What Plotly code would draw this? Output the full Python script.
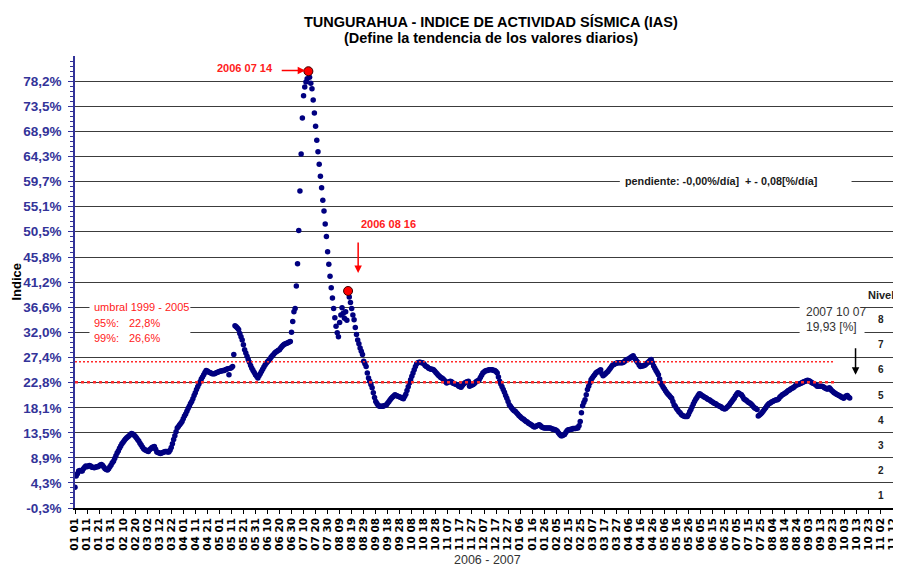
import pandas as pd
import plotly.graph_objects as go

# ---------------- data ----------------
start_date = "2006-01-01"
end_axis_date = "2007-11-12"
threshold_end_date = "2007-09-24"

ias_values = [
    3.5, 5.6, 6.0, 6.5, 6.6, 6.5, 6.5, 6.9, 7.2, 7.4,
    7.3, 7.4, 7.5, 7.4, 7.2, 7.2, 7.1, 7.2, 7.3, 7.3,
    7.4, 7.6, 7.7, 7.5, 7.2, 6.9, 6.8, 6.7, 6.9, 7.3,
    7.6, 8.0, 8.3, 8.8, 9.3, 9.8, 10.2, 10.7, 11.1, 11.5,
    11.8, 12.1, 12.4, 12.6, 12.8, 13.0, 13.2, 13.4, 13.3, 13.1,
    12.9, 12.6, 12.3, 12.0, 11.6, 11.3, 10.9, 10.6, 10.4, 10.3,
    10.2, 10.1, 10.4, 10.6, 10.8, 10.9, 11.0, 10.5, 10.0, 9.9,
    9.8, 9.7, 9.8, 9.9, 10.0, 10.1, 10.1, 10.0, 10.0, 10.3,
    10.8, 11.5, 12.3, 13.0, 13.7, 14.4, 14.7, 15.0, 15.3, 15.6,
    16.1, 16.6, 17.0, 17.5, 18.0, 18.4, 18.9, 19.3, 19.8, 20.4,
    20.9, 21.5, 22.0, 22.5, 22.9, 23.4, 23.8, 24.2, 24.6, 25.0,
    24.9, 24.7, 24.6, 24.5, 24.4, 24.4, 24.4, 24.5, 24.6, 24.7,
    24.8, 24.9, 24.9, 25.0, 25.0, 25.1, 25.2, 25.3, 24.2, 25.4,
    25.5, 25.7, 27.9, 33.2, 33.0, 32.8, 32.5, 31.8, 31.2, 30.6,
    29.7, 28.8, 28.2, 27.6, 27.0, 26.5, 25.9, 25.4, 25.0, 24.6,
    24.2, 23.9, 23.6, 24.0, 24.4, 24.8, 25.2, 25.6, 26.0, 26.3,
    26.6, 26.8, 27.1, 27.4, 27.7, 27.9, 28.2, 28.4, 28.5, 28.7,
    28.8, 29.1, 29.4, 29.6, 29.8, 29.9, 30.0, 30.1, 30.2, 30.3,
    32.0, 34.0, 35.8, 36.4, 40.5, 44.6, 50.7, 58.0, 64.8, 71.4,
    75.5, 77.1, 78.0, 78.6, 80.0, 78.9, 77.8, 76.8, 74.7, 72.3,
    69.9, 67.3, 65.2, 62.9, 60.7, 58.6, 56.3, 54.3, 51.9, 49.6,
    46.8, 44.5, 42.3, 40.2, 38.3, 36.4, 34.7, 33.1, 31.9, 31.2,
    33.8, 35.2, 36.5, 35.5, 34.6, 35.8, 34.2, 39.6, 38.5, 37.5,
    36.4, 35.2, 34.3, 32.9, 31.6, 30.6, 29.9, 29.1, 28.5, 27.9,
    26.7, 26.2, 25.7, 24.5, 23.6, 23.0, 22.4, 21.8, 20.9, 20.0,
    19.3, 18.9, 18.6, 18.4, 18.4, 18.4, 18.4, 18.5, 18.6, 18.7,
    19.0, 19.3, 19.6, 19.9, 20.1, 20.3, 20.5, 20.4, 20.3, 20.2,
    20.1, 20.0, 19.9, 19.8, 20.2, 20.6, 21.3, 22.0, 22.7, 23.3,
    23.9, 24.5, 25.1, 25.7, 26.2, 26.4, 26.5, 26.5, 26.4, 26.4,
    26.2, 25.9, 25.7, 25.6, 25.4, 25.3, 25.2, 25.2, 25.1, 24.9,
    24.6, 24.4, 24.1, 23.9, 23.7, 23.6, 23.4, 23.2, 22.9, 22.7,
    22.8, 22.9, 23.0, 22.9, 22.7, 22.6, 22.5, 22.4, 22.3, 22.1,
    22.0, 21.9, 22.2, 22.5, 22.7, 22.8, 22.9, 23.0, 22.1, 22.2,
    22.3, 22.4, 22.6, 22.8, 23.0, 23.1, 23.3, 23.7, 24.1, 24.5,
    24.7, 24.9, 25.0, 25.0, 25.1, 25.1, 25.1, 25.1, 25.0, 25.0,
    24.8, 24.5, 23.8, 23.0, 22.5, 22.0, 21.5, 21.0, 20.4, 19.9,
    19.3, 18.7, 18.4, 18.1, 17.8, 17.6, 17.5, 17.2, 17.0, 16.7,
    16.5, 16.3, 16.1, 16.0, 15.8, 15.6, 15.5, 15.3, 15.2, 15.0,
    14.9, 14.7, 14.6, 14.7, 14.8, 14.9, 15.0, 14.8, 14.6, 14.5,
    14.4, 14.4, 14.4, 14.4, 14.4, 14.4, 14.3, 14.2, 14.2, 14.1,
    14.0, 13.8, 13.5, 13.2, 13.0, 13.0, 13.1, 13.2, 13.6, 13.9,
    14.1, 14.1, 14.2, 14.2, 14.3, 14.3, 14.3, 14.4, 14.4, 14.8,
    15.6, 17.2, 18.5, 19.1, 19.6, 20.5, 21.5, 22.1, 22.7, 23.3,
    23.6, 23.9, 24.2, 24.5, 24.7, 24.8, 25.0, 25.1, 24.4, 24.0,
    24.2, 24.4, 24.6, 24.8, 25.1, 25.4, 25.7, 26.0, 26.1, 26.2,
    26.3, 26.4, 26.4, 26.4, 26.4, 26.4, 26.5, 26.7, 26.9, 27.0,
    27.1, 27.2, 27.4, 27.5, 27.7, 27.3, 27.0, 26.7, 26.4, 26.0,
    25.7, 25.8, 25.8, 25.9, 26.0, 26.2, 26.4, 26.6, 26.8, 27.0,
    26.4, 25.8, 25.4, 25.0, 24.6, 24.2, 23.4, 22.7, 22.3, 21.9,
    21.6, 21.2, 20.9, 20.6, 20.4, 20.1, 19.9, 19.3, 18.7, 18.4,
    18.0, 17.7, 17.4, 17.2, 16.9, 16.7, 16.6, 16.5, 16.5, 16.5,
    16.9, 17.4, 17.8, 18.3, 18.8, 19.3, 19.7, 20.0, 20.4, 20.7,
    20.6, 20.4, 20.3, 20.1, 20.0, 19.9, 19.7, 19.6, 19.5, 19.3,
    19.2, 19.0, 18.9, 18.8, 18.6, 18.5, 18.4, 18.3, 18.1, 18.0,
    17.9, 18.0, 18.2, 18.4, 18.7, 19.0, 19.3, 19.6, 19.9, 20.3,
    20.6, 20.9, 20.8, 20.6, 20.5, 20.2, 19.8, 19.6, 19.5, 19.3,
    19.1, 19.0, 18.8, 18.6, 18.3, 18.1, 18.0, 17.8, 16.6, 16.8,
    17.0, 17.2, 17.5, 17.8, 18.1, 18.4, 18.7, 18.9, 19.0, 19.2,
    19.3, 19.4, 19.5, 19.6, 19.6, 19.8, 20.1, 20.3, 20.5, 20.6,
    20.8, 20.9, 21.1, 21.3, 21.4, 21.6, 21.7, 21.8, 22.0, 22.2,
    22.3, 22.4, 22.5, 22.6, 22.7, 22.8, 22.9, 23.0, 23.1, 23.2,
    23.1, 23.0, 22.8, 22.7, 22.6, 22.5, 22.3, 22.1, 22.1, 22.1,
    22.1, 22.1, 22.0, 21.8, 21.7, 21.6, 21.6, 21.8, 21.6, 21.3,
    21.1, 20.9, 20.8, 20.6, 20.5, 20.4, 20.3, 20.1, 20.0, 19.9,
    20.1, 20.3, 20.4, 20.1, 19.93,
]

highlight_dates = ["2006-07-14", "2006-08-16"]
highlight_labels = ["2006 07 14", "2006 08 16"]

umbral_95 = 22.8
umbral_99 = 26.6

y_tick_values = [-0.3, 4.3, 8.9, 13.5, 18.1, 22.8, 27.4, 32.0, 36.6, 41.2,
                 45.8, 50.5, 55.1, 59.7, 64.3, 68.9, 73.5, 78.2]
y_tick_labels = ["-0,3%", "4,3%", "8,9%", "13,5%", "18,1%", "22,8%", "27,4%",
                 "32,0%", "36,6%", "41,2%", "45,8%", "50,5%", "55,1%", "59,7%",
                 "64,3%", "68,9%", "73,5%", "78,2%"]
y_top = 82.8
nivel_labels = ["1", "2", "3", "4", "5", "6", "7", "8"]

title_line1 = "TUNGURAHUA - INDICE DE ACTIVIDAD SÍSMICA (IAS)"
title_line2 = "(Define la tendencia de los valores diarios)"
pendiente_text = "pendiente: -0,00%/día]  + - 0,08[%/día]"
last_label = "2007 10 07"
last_value_text = "19,93 [%]"

# ---------------- layout geometry ----------------
# The page body adds an 8px offset; all positions below are page pixels.
OFF = 8
W_FIG, H_FIG = 901 - OFF, 568 - OFF
L, R, T, B = 74.5, 893.5, 55.5, 508.5          # plot area in page pixels
PW, PH = R - L, B - T


def px(xp):
    return (xp - L) / PW


def py(yp):
    return (B - yp) / PH


dates = pd.date_range(start_date, periods=len(ias_values), freq="D")
series = pd.Series(ias_values, index=dates)

fig = go.Figure()

fig.add_trace(go.Scatter(
    x=dates, y=ias_values, mode="markers",
    marker=dict(color="#000080", size=5.5, line=dict(width=0)),
    showlegend=False, hoverinfo="x+y"))

# threshold lines
thr_x = [pd.Timestamp(start_date), pd.Timestamp(threshold_end_date)]
fig.add_trace(go.Scatter(
    x=thr_x, y=[umbral_99, umbral_99], mode="lines",
    line=dict(color="#FF2A2A", width=1.5, dash="2px,2px"),
    showlegend=False, hoverinfo="skip"))
fig.add_trace(go.Scatter(
    x=thr_x, y=[umbral_95, umbral_95], mode="lines",
    line=dict(color="#FF2A2A", width=2.5, dash="3px,3px"),
    showlegend=False, hoverinfo="skip"))

# highlighted points
hx = [pd.Timestamp(d) for d in highlight_dates]
hy = [series[d] for d in hx]
fig.add_trace(go.Scatter(
    x=hx, y=hy, mode="markers",
    marker=dict(color="#FF0000", size=9, line=dict(color="#3a0000", width=1)),
    showlegend=False, hoverinfo="x+y"))

shapes = []
# white gaps in gridlines behind text boxes
for (x0, x1, y0, y1) in [(620, 852, 174, 189), (89, 190, 299, 346),
                         (800, 865, 300, 341)]:
    shapes.append(dict(type="rect", xref="paper", yref="paper",
                       x0=px(x0), x1=px(x1), y0=py(y1), y1=py(y0),
                       fillcolor="white", line=dict(width=0), layer="above"))

annotations = []


def text(xp, yp, s, size=11, color="#222222", bold=False, xanchor="center",
         family="Liberation Sans", angle=0):
    annotations.append(dict(
        xref="paper", yref="paper", x=px(xp), y=py(yp),
        text=("<b>%s</b>" % s) if bold else s, textangle=angle,
        showarrow=False, xanchor=xanchor, yanchor="middle",
        font=dict(size=size, color=color, family=family)))


def arrow(x_head, y_head, x_tail, y_tail, color):
    annotations.append(dict(
        xref="paper", yref="paper", x=px(x_head), y=py(y_head),
        ax=x_tail - x_head, ay=y_tail - y_head, text="", showarrow=True,
        arrowhead=2, arrowsize=1, arrowwidth=1.5, arrowcolor=color))


# titles
text(491, 21.5, title_line1, size=14.5, color="#000000", bold=True)
text(491, 37, title_line2, size=14.5, color="#000000", bold=True)

# peak annotations
text(245, 68, highlight_labels[0], size=11, color="#FF2020", bold=True)
arrow(305, 70, 280, 70, "#FF0000")
text(359, 224, highlight_labels[1], size=11, color="#FF2020", bold=True, xanchor="left")
arrow(358, 273, 358, 241, "#FF0000")

# umbral block
text(92, 307, "umbral 1999 - 2005", size=11, color="#FF2020", xanchor="left")
text(92, 323, "95%:", size=11, color="#FF2020", xanchor="left")
text(127, 323, "%s%%" % str(umbral_95).replace(".", ","), size=11, color="#FF2020", xanchor="left")
text(92, 338, "99%:", size=11, color="#FF2020", xanchor="left")
text(127, 338, "%s%%" % str(umbral_99).replace(".", ","), size=11, color="#FF2020", xanchor="left")

# pendiente
text(623, 181, pendiente_text, size=10.8, color="#1a1a1a", bold=True, xanchor="left")

# last value
text(804, 312.5, last_label, size=12, color="#333333", xanchor="left")
text(804, 327, last_value_text, size=12, color="#333333", xanchor="left")
arrow(856, 375, 856, 347, "#000000")

# nivel labels
text(881, 295.5, "Nivel", size=11, color="#222222", bold=True)
for k, lab in enumerate(nivel_labels):
    mid = (y_tick_values[k] + y_tick_values[k + 1]) / 2
    annotations.append(dict(
        xref="paper", yref="y", x=px(881.5), y=mid, text="<b>%s</b>" % lab,
        showarrow=False, xanchor="center", yanchor="middle",
        font=dict(size=10, color="#222222", family="Liberation Sans")))

# axis titles
text(15, 282, "Indice", size=13, color="#000000", bold=True, angle=-90)
text(488, 561, "2006 - 2007", size=12.5, color="#333333")

# minor ticks on y
minor_vals = []
for k in range(len(y_tick_values) - 1):
    a, b = y_tick_values[k], y_tick_values[k + 1]
    for j in range(1, 5):
        minor_vals.append(a + (b - a) * j / 5)
minor_vals += [78.2 + (y_top - 78.2) * j / 5 for j in range(1, 5)]

fig.update_layout(
    width=W_FIG, height=H_FIG,
    margin=dict(l=L - OFF, r=901 - R, t=T - OFF, b=568 - B, autoexpand=False),
    paper_bgcolor="white", plot_bgcolor="white",
    shapes=shapes, annotations=annotations,
    font=dict(family="Liberation Sans"),
    xaxis=dict(
        type="date", range=[start_date, end_axis_date],
        tick0=start_date, dtick=10 * 86400000, tickformat="%m %d",
        tickangle=-90, ticks="outside", ticklen=4, tickcolor="#000000",
        showline=True, linecolor="#000000", linewidth=1.5,
        showgrid=False, zeroline=False,
        tickfont=dict(family="DejaVu Sans", size=10.5, color="#000000", weight="bold"),
    ),
    yaxis=dict(
        range=[y_tick_values[0], y_top],
        tickmode="array", tickvals=y_tick_values, ticktext=y_tick_labels,
        ticks="outside", ticklen=5, tickcolor="#333399",
        ticklabelstandoff=4,
        showline=True, linecolor="#333399", linewidth=1.5,
        showgrid=True, gridcolor="#3c3c3c", gridwidth=1,
        zeroline=False,
        tickfont=dict(family="Liberation Sans", size=13.5, color="#333399", weight="bold"),
        minor=dict(tickmode="array", tickvals=minor_vals, ticks="outside",
                   ticklen=3, tickcolor="#333399", showgrid=False),
    ),
)

fig.write_html("out.html")
